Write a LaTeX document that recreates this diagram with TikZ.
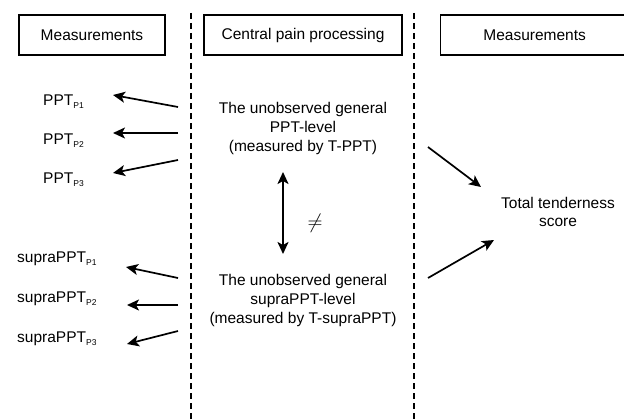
\documentclass[tikz,border=0pt]{standalone}
\usepackage{fontspec}
\setmainfont{Liberation Sans}
\usetikzlibrary{arrows.meta}
\newcommand{\sbs}[1]{\raisebox{-3.5pt}{\fontsize{8.5}{8.5}\selectfont #1}}
\begin{document}
\begin{tikzpicture}[x=1pt,y=-1pt,
  txt/.style={font=\fontsize{15.5}{19}\selectfont, inner sep=0pt, text=black},
  hdr/.style={txt, draw, line width=1.3pt, minimum height=40pt},
  lbl/.style={txt, anchor=base west},
  divider/.style={line width=1.6pt, dash pattern=on 6pt off 4pt},
  tip/.style={},
  arr/.style={line width=1.7pt, -{Stealth[length=12pt,width=11pt,inset=3pt]}},
  darr/.style={line width=2.1pt, {Stealth[length=12pt,width=11pt,inset=3pt]}-{Stealth[length=12pt,width=11pt,inset=3pt]}}
]
\useasboundingbox (0,0) rectangle (624,420);

% dividers
\coordinate (d1t) at (191,13);
\coordinate (d1b) at (191,421);
\coordinate (d2t) at (414,13);
\coordinate (d2b) at (414,421);
\draw[divider] (d1t) -- (d1b);
\draw[divider] (d2t) -- (d2b);

% header boxes
\node[hdr, minimum width=146pt] (h1) at (92,35) {Measurements};
\node[hdr, minimum width=198pt] (h2) at (303,35) {Central pain processing};
\node[hdr, minimum width=188pt, anchor=west] (h3) at (440,35) {Measurements};

% central texts
\node[txt, align=center] (ppt) at (303,128) {The unobserved general\\PPT-level\\(measured by T-PPT)};
\node[txt, align=center] (supra) at (303,300) {The unobserved general\\supraPPT-level\\(measured by T-supraPPT)};
\node[txt, align=center, font=\fontsize{15.5}{18}\selectfont] (total) at (558,212) {Total tenderness\\score};
\node[txt, font=\fontsize{20}{20}\selectfont] (neq) at (315,223) {$\neq$};

% left labels
\node[lbl] (p1) at (43,105) {PPT\sbs{P1}};
\node[lbl] (p2) at (43,144) {PPT\sbs{P2}};
\node[lbl] (p3) at (43,183) {PPT\sbs{P3}};
\node[lbl] (s1) at (17,262) {supraPPT\sbs{P1}};
\node[lbl] (s2) at (17,302) {supraPPT\sbs{P2}};
\node[lbl] (s3) at (17,342) {supraPPT\sbs{P3}};

% arrow end points
\coordinate (a1t) at (178,107); \coordinate (a1h) at (113,95);
\coordinate (a2t) at (178,133); \coordinate (a2h) at (113,133);
\coordinate (a3t) at (178,160); \coordinate (a3h) at (113,173);
\coordinate (b1t) at (178,278); \coordinate (b1h) at (126,267);
\coordinate (b2t) at (178,305); \coordinate (b2h) at (127,305);
\coordinate (b3t) at (178,331); \coordinate (b3h) at (127,344);
\coordinate (r1t) at (428,147); \coordinate (r1h) at (481,187);
\coordinate (r2t) at (428,278); \coordinate (r2h) at (494,240);
\coordinate (dt) at (283,172); \coordinate (db) at (283,254);

\draw[arr] (a1t) -- (a1h);
\draw[arr] (a2t) -- (a2h);
\draw[arr] (a3t) -- (a3h);
\draw[arr] (b1t) -- (b1h);
\draw[arr] (b2t) -- (b2h);
\draw[arr] (b3t) -- (b3h);
\draw[arr] (r1t) -- (r1h);
\draw[arr] (r2t) -- (r2h);
\draw[darr] (dt) -- (db);
\end{tikzpicture}
\end{document}
